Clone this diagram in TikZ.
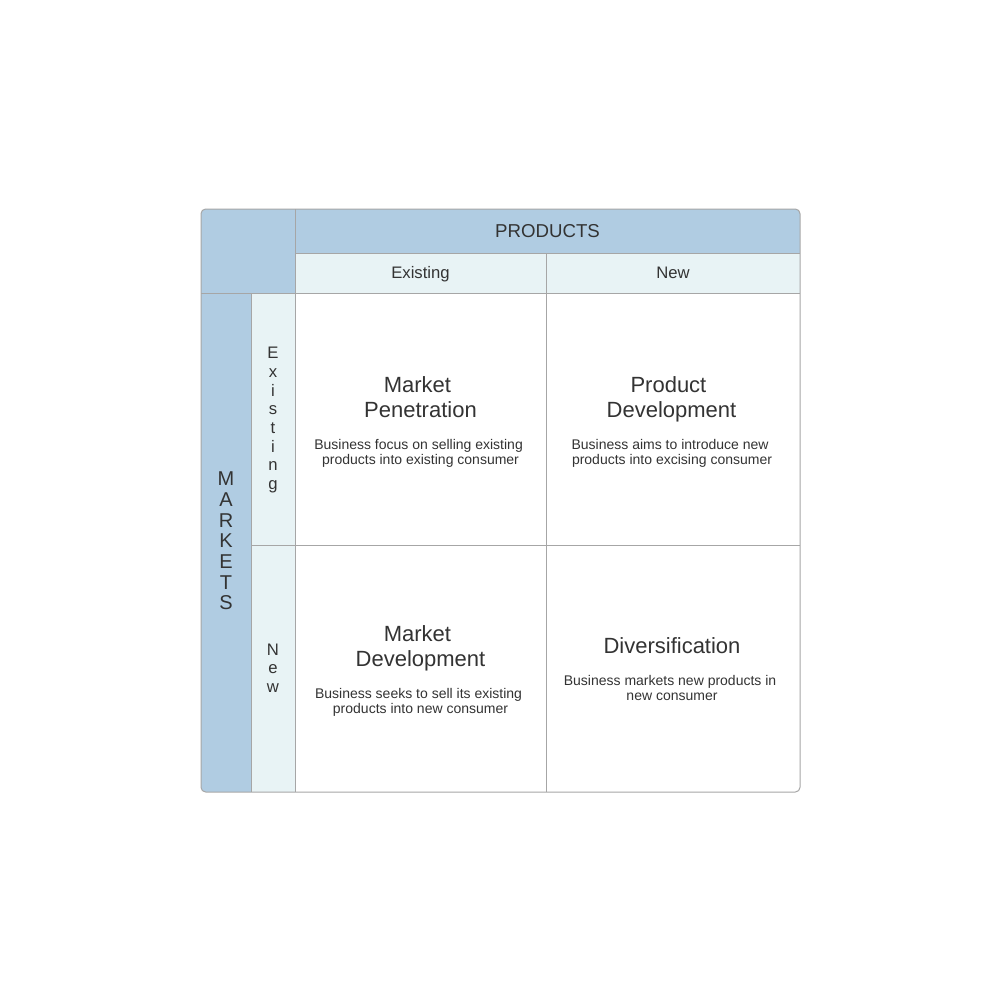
\documentclass[tikz,border=0pt]{standalone}
\usepackage{fontspec}
\setmainfont{Liberation Sans}
\definecolor{darkc}{RGB}{176,204,226}
\definecolor{lightc}{RGB}{232,243,245}
\definecolor{gridc}{RGB}{166,166,166}
\definecolor{txtc}{RGB}{51,51,51}
\newcommand{\tsp}{\hspace*{0.278em}}
\begin{document}
\begin{tikzpicture}[x=0.75pt,y=-0.75pt,
  gridline/.style={draw=gridc, line width=0.75pt},
  lbl/.style={inner sep=0pt, outer sep=0pt, text=txtc, align=center},
  hdr/.style={lbl, font=\fontsize{14}{16}\selectfont},
  sub/.style={lbl, font=\fontsize{12.5}{14}\selectfont},
  vert/.style={lbl, font=\fontsize{12.5}{14}\selectfont},
  vertbig/.style={lbl, font=\fontsize{15}{15.5}\selectfont},
  title/.style={lbl, font=\fontsize{16.5}{18.75}\selectfont},
  desc/.style={lbl, font=\fontsize{10.5}{11.25}\selectfont}]
\useasboundingbox (0,0) rectangle (1000,1000);
\fill[white] (0,0) rectangle (1000,1000);
\begin{scope}
\clip[rounded corners=3.5pt] (201,209) rectangle (800,792);
\fill[darkc] (201,209) rectangle (800,253);
\fill[darkc] (201,209) rectangle (295,293);
\fill[darkc] (201,293) rectangle (251,792);
\fill[lightc] (295,253) rectangle (800,293);
\fill[lightc] (251,293) rectangle (295,792);
\end{scope}
\draw[gridline] (295,209) -- (295,792);
\draw[gridline] (295,253) -- (800,253);
\draw[gridline] (201,293) -- (800,293);
\draw[gridline] (546,253) -- (546,792);
\draw[gridline] (251,293) -- (251,792);
\draw[gridline] (251,545) -- (800,545);
\draw[gridline, rounded corners=3.5pt] (201,209) rectangle (800,792);

\node[hdr] (products) at (547.5,231.5) {PRODUCTS};
\node[sub] (pexist) at (420.5,274) {Existing};
\node[sub] (pnew) at (673,273) {New};
\node[vertbig] (markets) at (226,541) {M\\A\\R\\K\\E\\T\\S};
\node[vert] (mexist) at (273,420) {E\\x\\i\\s\\t\\i\\n\\g};
\node[vert] (mnew) at (273,668) {N\\e\\w};

\node[title] (t1) at (420.5,397.5) {Market\tsp\\Penetration};
\node[desc] (d1) at (420.5,453) {Business focus on selling existing\tsp\\products into existing consumer};
\node[title] (t2) at (671.5,399.8) {Product\tsp\\Development};
\node[desc] (d2) at (672,453) {Business aims to introduce new\tsp\\products into excising consumer};
\node[title] (t3) at (420.5,648.8) {Market\tsp\\Development};
\node[desc] (d3) at (420.5,702) {Business seeks to sell its existing\tsp\\products into new consumer};
\node[title] (t4) at (672,646) {Diversification};
\node[desc] (d4) at (672,688) {Business markets new products in\tsp\\new consumer};
\end{tikzpicture}
\end{document}
